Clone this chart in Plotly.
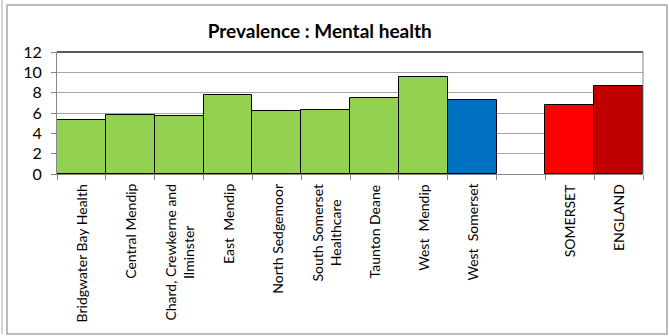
import plotly.graph_objects as go

categories = ["Bridgwater Bay Health", "Central Mendip", "Chard, Crewkerne and<br>Ilminster",
              "East  Mendip", "North Sedgemoor", "South Somerset<br>Healthcare",
              "Taunton Deane", "West  Mendip", "West  Somerset", " ", "SOMERSET", "ENGLAND"]
values = [5.35, 5.83, 5.72, 7.82, 6.23, 6.33, 7.45, 9.5, 7.3, None, 6.8, 8.7]
colors = ["#92D050"] * 8 + ["#0070C0", "#FFFFFF", "#FF0000", "#C00000"]
y_ticks = [0, 2, 4, 6, 8, 10, 12]

L, R, T, B = 57, 26, 52, 162
W, H = 669, 336
pw, ph = W - L - R, H - T - B

def px(x):
    return (x - L) / pw

def py(y):
    return (H - B - y) / ph

fig = go.Figure(go.Bar(
    x=categories, y=values,
    marker=dict(color=colors, line=dict(color="#000000", width=1)),
    width=1,
))

annotations = [
    dict(x=c, xref="x", y=py(182), yref="paper", text=c, textangle=-90,
         showarrow=False, xanchor="center", yanchor="top", align="center",
         font=dict(family="Lato", size=14, color="#000000"))
    for c in categories if c.strip()
]

fig.update_layout(
    width=W, height=H,
    margin=dict(l=L, r=R, t=T, b=B),
    paper_bgcolor="white", plot_bgcolor="white",
    showlegend=False,
    bargap=0,
    title=dict(text="<b>Prevalence : Mental health</b>", x=px(337), xanchor="center",
               y=1 - 31 / H, yanchor="middle",
               font=dict(family="Lato", size=19, color="#000000")),
    xaxis=dict(type="category", tickson="boundaries", ticks="outside", ticklen=5,
               tickcolor="#868686", showline=True, linecolor="#868686", linewidth=1,
               showticklabels=False, showgrid=False, range=[-0.5, 11.5]),
    yaxis=dict(range=[0, 12], tickvals=y_ticks, ticks="outside", ticklen=5,
               tickcolor="#868686", showline=True, linecolor="#868686", linewidth=1,
               showgrid=True, gridcolor="#A6A6A6", gridwidth=1, ticklabelstandoff=6,
               tickfont=dict(family="Lato", size=16, color="#000000"), zeroline=False),
    annotations=annotations,
    shapes=[
        dict(type="line", xref="paper", yref="paper", x0=0, x1=1, y0=1, y1=1,
             line=dict(color="#595959", width=2)),
        dict(type="line", xref="paper", yref="paper", x0=1, x1=1, y0=0, y1=1,
             line=dict(color="#868686", width=1)),
        dict(type="rect", xref="paper", yref="paper", x0=px(7), x1=px(667),
             y0=py(334), y1=py(5), line=dict(color="#A6A6A6", width=1.5)),
        dict(type="line", xref="paper", yref="paper", x0=px(2), x1=px(2),
             y0=py(334), y1=py(0), line=dict(color="#A6A6A6", width=1)),
    ],
)

fig.write_html("out.html", config={"displayModeBar": False},
               post_script="document.body.style.margin='0';")
